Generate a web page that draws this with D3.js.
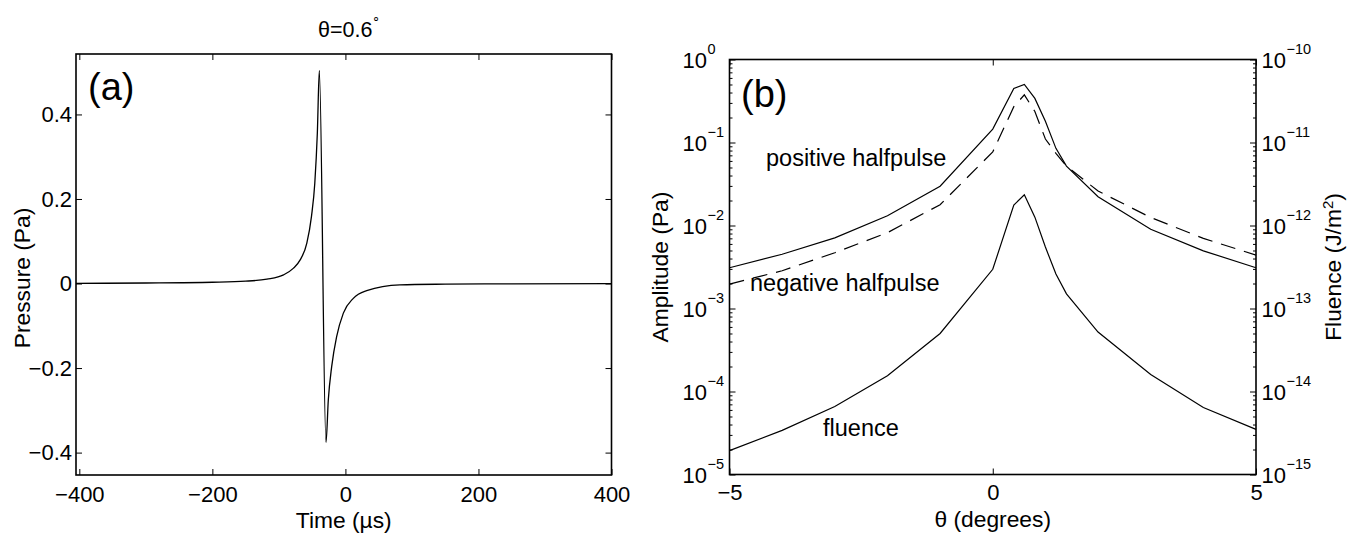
<!DOCTYPE html>
<html><head><meta charset="utf-8">
<script src="https://cdn.jsdelivr.net/npm/d3@7"></script>
<style>
body{margin:0;background:#fff;}
svg{display:block;font-family:"Liberation Sans",Arial,Helvetica,sans-serif;}
</style></head><body>
<svg id="chart" width="1360" height="544"></svg>
<script>
// ---------- Panel (a) data: pressure pulse at theta = 0.6 deg ----------
const timeUs     = [-405, -300, -200, -150, -118, -93, -78, -68, -58, -51, -46, -42.2, -39.2, -29.2, -25.7, -20.6, -13.1, -3.1, 11.9, 32, 82, 150, 250, 400];
const pressurePa = [0.0004, 0.0012, 0.003, 0.0055, 0.0104, 0.0206, 0.0364, 0.056, 0.0956, 0.159, 0.238, 0.356, 0.504, -0.376, -0.275, -0.196, -0.125, -0.07, -0.035, -0.017, -0.003, -0.0015, -0.0007, -0.0003];
const timeTicks     = [-400, -200, 0, 200, 400];
const pressureTicks = [-0.4, -0.2, 0, 0.2, 0.4];

// ---------- Panel (b) data: amplitude / fluence vs angle ----------
const thetaDeg          = [-5, -4, -3, -2, -1, 0, 0.4, 0.6, 0.8, 1.0, 1.2, 1.4, 2, 3, 4, 5];
const positiveHalfpulse = [3.1e-3, 4.5e-3, 7.1e-3, 1.31e-2, 2.97e-2, 0.145, 0.447, 0.50, 0.34, 0.18, 0.085, 0.052, 0.0222, 0.009, 4.95e-3, 3.1e-3];
const negativeHalfpulse = [1.97e-3, 2.85e-3, 4.7e-3, 8.2e-3, 1.78e-2, 0.077, 0.27, 0.375, 0.236, 0.11, 0.074, 0.052, 0.026, 0.0125, 7.0e-3, 4.4e-3];
const fluenceJm2        = [1.94e-15, 3.4e-15, 6.6e-15, 1.55e-14, 5.0e-14, 2.97e-13, 1.76e-12, 2.35e-12, 1.26e-12, 5.5e-13, 2.6e-13, 1.5e-13, 5.2e-14, 1.6e-14, 6.4e-15, 3.5e-15];
const thetaTicks     = [-5, 0, 5];
const ampTickExps    = [-5, -4, -3, -2, -1, 0];
const fluTickExps    = [-15, -14, -13, -12, -11, -10];

const svg = d3.select("#chart");
const FS = 22;
const FL = 22.8;
const FN = 23.5;

function styleAxis(g) {
  g.select(".domain").remove();
  g.attr("font-family", null).attr("font-size", null);
  g.selectAll(".tick line").attr("stroke", "#000").attr("stroke-width", 1);
  g.selectAll(".tick text").attr("fill", "#000").attr("font-size", FS);
}

// ================= Panel (a) =================
const A = {l: 76, r: 611.5, t: 54, b: 475};
const xA = d3.scaleLinear().domain([-405, 400]).range([A.l, A.r]);
const yA = d3.scaleLinear().domain([-0.453, 0.543]).range([A.b, A.t]);
const fmtP = d => d === 0 ? "0" : d3.format(".1f")(d);

const gA = svg.append("g");
gA.append("g").attr("transform", `translate(0,${A.b})`)
  .call(d3.axisBottom(xA).tickValues(timeTicks).tickSizeInner(-6).tickSizeOuter(0).tickPadding(11).tickFormat(d3.format("")))
  .call(styleAxis);
gA.append("g").attr("transform", `translate(0,${A.t})`)
  .call(d3.axisTop(xA).tickValues(timeTicks).tickSizeInner(-6).tickSizeOuter(0).tickFormat(""))
  .call(styleAxis);
gA.append("g").attr("transform", `translate(${A.l},0)`)
  .call(d3.axisLeft(yA).tickValues(pressureTicks).tickSizeInner(-6).tickSizeOuter(0).tickPadding(4).tickFormat(fmtP))
  .call(styleAxis);
gA.append("g").attr("transform", `translate(${A.r},0)`)
  .call(d3.axisRight(yA).tickValues(pressureTicks).tickSizeInner(-6).tickSizeOuter(0).tickFormat(""))
  .call(styleAxis);
gA.append("rect").attr("x", A.l).attr("y", A.t).attr("width", A.r - A.l).attr("height", A.b - A.t)
  .attr("fill", "none").attr("stroke", "#000").attr("stroke-width", 1.6);

const pulse = timeUs.map((t, i) => [t, pressurePa[i]]);
gA.append("path").datum(pulse)
  .attr("d", d3.line().x(d => xA(d[0])).y(d => yA(d[1])).curve(d3.curveMonotoneX))
  .attr("fill", "none").attr("stroke", "#000").attr("stroke-width", 1.3);

gA.append("text").attr("x", 88).attr("y", 100).attr("font-size", 38).text("(a)");
gA.append("text").attr("x", 318).attr("y", 37).attr("font-size", 21.5).text("θ=0.6");
gA.append("text").attr("x", 372).attr("y", 22).attr("font-size", 13).text("∘");
gA.append("text").attr("x", (A.l + A.r) / 2).attr("y", 528).attr("text-anchor", "middle").attr("font-size", FL).text("Time (µs)");
gA.append("text").attr("transform", `translate(29.5,278) rotate(-90)`).attr("text-anchor", "middle").attr("font-size", FL).text("Pressure (Pa)");

// ================= Panel (b) =================
const B = {l: 729.5, r: 1256, t: 59.5, b: 474.5};
const xB = d3.scaleLinear().domain([-5, 5]).range([B.l, B.r]);
const yAmp = d3.scaleLog().domain([1e-5, 1]).range([B.b, B.t]);
const yFlu = d3.scaleLog().domain([1e-15, 1e-10]).range([B.b, B.t]);
const gB = svg.append("g");

const minorOf = exps => exps.slice(0, -1).flatMap(e => d3.range(2, 10).map(k => k * Math.pow(10, e)));
const pow10 = exps => exps.map(e => Math.pow(10, e));

gB.append("g").attr("transform", `translate(0,${B.b})`)
  .call(d3.axisBottom(xB).tickValues(thetaTicks).tickSizeInner(-6).tickSizeOuter(0).tickPadding(10).tickFormat(d3.format("")))
  .call(styleAxis);
gB.append("g").attr("transform", `translate(0,${B.t})`)
  .call(d3.axisTop(xB).tickValues(thetaTicks).tickSizeInner(-6).tickSizeOuter(0).tickFormat(""))
  .call(styleAxis);

// left log axis (amplitude)
gB.append("g").attr("transform", `translate(${B.l},0)`)
  .call(d3.axisLeft(yAmp).tickValues(minorOf(ampTickExps)).tickSizeInner(-3).tickSizeOuter(0).tickFormat(""))
  .call(styleAxis);
const leftMaj = gB.append("g").attr("transform", `translate(${B.l},0)`)
  .call(d3.axisLeft(yAmp).tickValues(pow10(ampTickExps)).tickSizeInner(-6).tickSizeOuter(0).tickFormat(""))
  .call(styleAxis);
leftMaj.selectAll(".tick").each(function(d) {
  const g = d3.select(this);
  g.select("text").remove();
  const e = Math.round(Math.log10(d));
  g.append("text").attr("x", -22.5).attr("y", 8).attr("text-anchor", "end").attr("fill", "#000").attr("font-size", FS).text("10");
  g.append("text").attr("x", -22).attr("y", -6).attr("text-anchor", "start").attr("fill", "#000").attr("font-size", 14.5).text(d3.format("")(e));
});

// right log axis (fluence)
gB.append("g").attr("transform", `translate(${B.r},0)`)
  .call(d3.axisRight(yFlu).tickValues(minorOf(fluTickExps)).tickSizeInner(-3).tickSizeOuter(0).tickFormat(""))
  .call(styleAxis);
const rightMaj = gB.append("g").attr("transform", `translate(${B.r},0)`)
  .call(d3.axisRight(yFlu).tickValues(pow10(fluTickExps)).tickSizeInner(-6).tickSizeOuter(0).tickFormat(""))
  .call(styleAxis);
rightMaj.selectAll(".tick").each(function(d) {
  const g = d3.select(this);
  g.select("text").remove();
  const e = Math.round(Math.log10(d));
  g.append("text").attr("x", 5.5).attr("y", 8).attr("text-anchor", "start").attr("fill", "#000").attr("font-size", FS).text("10");
  g.append("text").attr("x", 30.5).attr("y", -6).attr("text-anchor", "start").attr("fill", "#000").attr("font-size", 14.5).text(d3.format("")(e));
});

gB.append("rect").attr("x", B.l).attr("y", B.t).attr("width", B.r - B.l).attr("height", B.b - B.t)
  .attr("fill", "none").attr("stroke", "#000").attr("stroke-width", 1.6);

const lineAmp = d3.line().x(d => xB(d[0])).y(d => yAmp(d[1]));
const lineFlu = d3.line().x(d => xB(d[0])).y(d => yFlu(d[1]));
gB.append("path").datum(thetaDeg.map((t, i) => [t, positiveHalfpulse[i]]))
  .attr("d", lineAmp).attr("fill", "none").attr("stroke", "#000").attr("stroke-width", 1.2);
gB.append("path").datum(thetaDeg.map((t, i) => [t, negativeHalfpulse[i]]))
  .attr("d", lineAmp).attr("fill", "none").attr("stroke", "#000").attr("stroke-width", 1.2).attr("stroke-dasharray", "15,9");
gB.append("path").datum(thetaDeg.map((t, i) => [t, fluenceJm2[i]]))
  .attr("d", lineFlu).attr("fill", "none").attr("stroke", "#000").attr("stroke-width", 1.2);

gB.append("text").attr("x", 741).attr("y", 107).attr("font-size", 38).text("(b)");
gB.append("text").attr("x", 766).attr("y", 166).attr("font-size", FN).text("positive halfpulse");
gB.append("text").attr("x", 750).attr("y", 291).attr("font-size", FN).text("negative halfpulse");
gB.append("text").attr("x", 823).attr("y", 436).attr("font-size", FN).text("fluence");
gB.append("text").attr("x", (B.l + B.r) / 2).attr("y", 527).attr("text-anchor", "middle").attr("font-size", FL).text("θ (degrees)");
gB.append("text").attr("transform", `translate(668,${(B.t + B.b) / 2}) rotate(-90)`).attr("text-anchor", "middle").attr("font-size", FL).text("Amplitude (Pa)");
const flu = gB.append("text").attr("transform", `translate(1341,${(B.t + B.b) / 2}) rotate(-90)`).attr("text-anchor", "middle").attr("font-size", FL);
flu.append("tspan").text("Fluence (J/m");
flu.append("tspan").attr("dy", -8).attr("font-size", 15).text("2");
flu.append("tspan").attr("dy", 8).text(")");
</script>
</body></html>
